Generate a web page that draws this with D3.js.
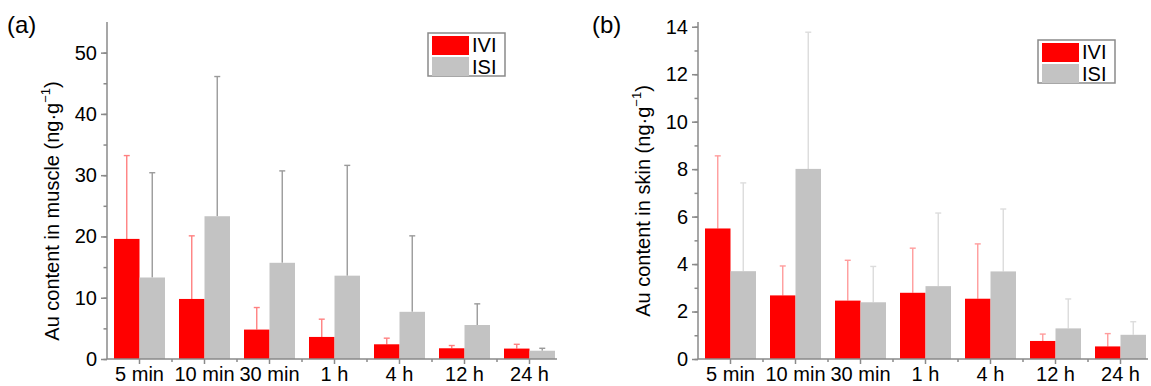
<!DOCTYPE html>
<html>
<head>
<meta charset="utf-8">
<script src="https://cdn.jsdelivr.net/npm/d3@7"></script>
<style>
  body { margin: 0; background: #fff; }
  svg { display: block; font-family: "Liberation Sans", Arial, sans-serif; }
</style>
</head>
<body>
<svg id="chart" width="1151" height="386"></svg>
<script>
// data
const categories = ['5 min', '10 min', '30 min', '1 h', '4 h', '12 h', '24 h'];
const series = ['IVI', 'ISI'];

const muscleIVI = [19.6, 9.8, 4.8, 3.6, 2.4, 1.75, 1.7];
const muscleIVIErr = [13.6, 10.3, 3.6, 2.9, 1.0, 0.45, 0.7];
const muscleISI = [13.3, 23.3, 15.7, 13.6, 7.7, 5.55, 1.35];
const muscleISIErr = [17.1, 22.8, 15.0, 18.0, 12.4, 3.45, 0.4];

const skinIVI = [5.5, 2.68, 2.46, 2.79, 2.54, 0.76, 0.53];
const skinIVIErr = [3.06, 1.24, 1.7, 1.88, 2.31, 0.29, 0.54];
const skinISI = [3.7, 8.01, 2.39, 3.07, 3.69, 1.29, 1.02];
const skinISIErr = [3.72, 5.76, 1.51, 3.08, 2.63, 1.24, 0.55];

const muscleTicks = [0, 10, 20, 30, 40, 50];
const skinTicks = [0, 2, 4, 6, 8, 10, 12, 14];

const svg = d3.select('#chart');
const axisColor = '#8a8a8a';
const fillColor = { IVI: '#ff0000', ISI: '#c3c3c3' };

function styleAxis(a) {
	a.attr('font-family', null).attr('font-size', null);
	a.select('.domain').remove();
	a.selectAll('line').attr('stroke', axisColor).attr('stroke-width', 1.5);
	a.selectAll('text').attr('font-size', 20).attr('fill', '#000');
}

function drawPanel(p) {
	const g = svg.append('g');
	const bottom = 359, top = 22;

	let x = d3.scaleBand().domain(categories).range([p.left, p.left + categories.length * 65]);
	let xs = d3.scaleBand().domain(series).range([7, 58]);
	let y = d3.scaleLinear().domain([0, p.yMax]).range([bottom, top]);

	const rows = categories.map((c, i) => ({
		cat: c,
		IVI: p.ivi[i], IVIErr: p.iviErr[i],
		ISI: p.isi[i], ISIErr: p.isiErr[i]
	}));

	// error bars (drawn first so the bars cover the lower part)
	series.forEach((s) => {
		const eg = g.append('g').attr('stroke', p.errColor[s]).attr('stroke-width', 1.4);
		rows.forEach((d) => {
			const cx = x(d.cat) + xs(s) + xs.bandwidth() / 2;
			const yt = y(d[s] + d[s + 'Err']);
			eg.append('line').attr('x1', cx).attr('x2', cx).attr('y1', y(d[s])).attr('y2', yt);
			eg.append('line').attr('x1', cx - 3).attr('x2', cx + 3).attr('y1', yt).attr('y2', yt);
		});
	});

	// bars
	series.forEach((s) => {
		g.append('g')
			.attr('fill', fillColor[s])
			.selectAll('rect')
			.data(rows)
			.join('rect')
			.attr('x', (d) => x(d.cat) + xs(s))
			.attr('y', (d) => y(d[s]))
			.attr('width', xs.bandwidth())
			.attr('height', (d) => y(0) - y(d[s]));
	});

	// y axis
	const minor = d3.range(0, p.yMax, p.minorStep);
	g.append('g')
		.attr('transform', `translate(${p.left},0)`)
		.call(d3.axisLeft(y).tickValues(minor).tickSize(3.5).tickFormat(''))
		.call(styleAxis);
	g.append('g')
		.attr('transform', `translate(${p.left},0)`)
		.call(d3.axisLeft(y).tickValues(p.ticks).tickSize(6).tickPadding(4))
		.call(styleAxis);
	g.append('line')
		.attr('x1', p.left).attr('x2', p.left).attr('y1', top).attr('y2', bottom)
		.attr('stroke', axisColor).attr('stroke-width', 1.5);

	// x axis
	g.append('g')
		.attr('transform', `translate(0,${bottom})`)
		.call(d3.axisBottom(x).tickSize(5).tickPadding(3))
		.call(styleAxis);
	g.append('g')
		.attr('stroke', axisColor).attr('stroke-width', 1.5)
		.selectAll('line')
		.data(categories.slice(1))
		.join('line')
		.attr('x1', (d) => x(d)).attr('x2', (d) => x(d))
		.attr('y1', bottom).attr('y2', bottom + 3);
	g.append('line')
		.attr('x1', p.left).attr('x2', p.left + 450).attr('y1', bottom).attr('y2', bottom)
		.attr('stroke', axisColor).attr('stroke-width', 1.5);

	// axis title
	const t = g.append('text')
		.attr('transform', `translate(${p.left - 48},${p.titleY}) rotate(-90)`)
		.attr('text-anchor', 'middle')
		.attr('font-size', 20)
		.attr('fill', '#000');
	t.append('tspan').text(p.title + ' (ng·g');
	t.append('tspan').attr('font-size', 13).attr('dy', -9).text('−1');
	t.append('tspan').attr('dy', 9).text(')');

	// panel tag
	g.append('text').attr('x', p.tagX).attr('y', 33).attr('font-size', 24).text(p.tag);

	// legend
	const lg = g.append('g').attr('transform', `translate(${p.legendX},${p.legendY})`);
	lg.append('rect').attr('width', 77).attr('height', 43)
		.attr('fill', '#fff').attr('stroke', axisColor).attr('stroke-width', 1.5);
	series.forEach((s, i) => {
		lg.append('rect').attr('x', 4).attr('y', 3 + i * 21).attr('width', 37).attr('height', 19)
			.attr('fill', fillColor[s]);
		lg.append('text').attr('x', 44).attr('y', 19 + i * 21.5).attr('font-size', 20).text(s);
	});
}

drawPanel({
	left: 107, yMax: 55, ticks: muscleTicks, minorStep: 5,
	ivi: muscleIVI, iviErr: muscleIVIErr, isi: muscleISI, isiErr: muscleISIErr,
	errColor: { IVI: '#ff8080', ISI: '#9a9a9a' },
	title: 'Au content in muscle', titleY: 211,
	tag: '(a)', tagX: 7, legendX: 428, legendY: 33
});

drawPanel({
	left: 698, yMax: 14.2, ticks: skinTicks, minorStep: 1,
	ivi: skinIVI, iviErr: skinIVIErr, isi: skinISI, isiErr: skinISIErr,
	errColor: { IVI: '#ff9c9c', ISI: '#dcdcdc' },
	title: 'Au content in skin', titleY: 201,
	tag: '(b)', tagX: 592, legendX: 1038, legendY: 40
});
</script>
</body>
</html>
